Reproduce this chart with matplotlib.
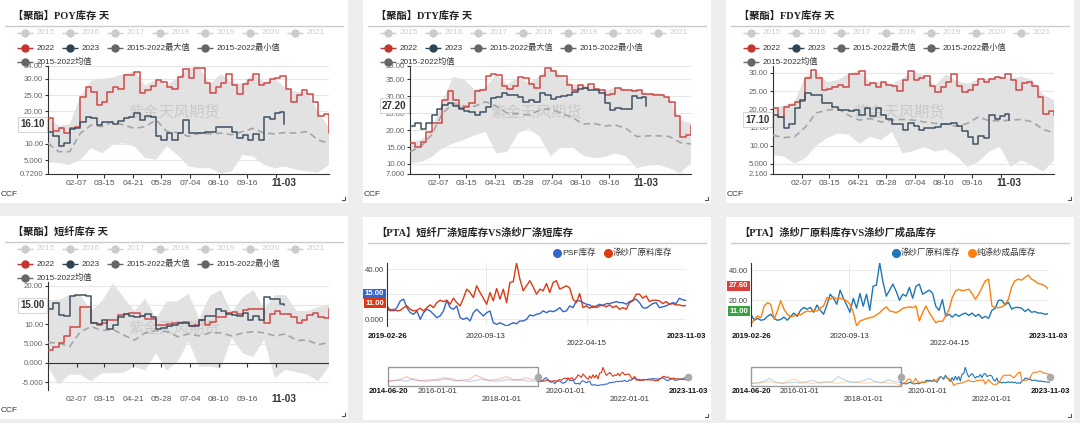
import numpy as np
import pandas as pd
import matplotlib
matplotlib.use('Agg')
import matplotlib.pyplot as plt
import matplotlib.dates as mdates
from matplotlib.patches import Rectangle

plt.rcParams['font.family'] = ['Liberation Sans', 'Noto Sans CJK SC']
TITLE_FONT = ['Liberation Serif', 'Noto Sans CJK SC']
W, H = 1080, 423

# ---------------- seasonal panels: weekly values, day-of-year axis ----------------
tick_labels = ['02-07', '03-15', '04-21', '05-28', '07-04', '08-10', '09-16', '10-23']
last_label = '11-03'
legend_years = ['2015', '2016', '2017', '2018', '2019', '2020', '2021']

poy_2022 = [17.9, 14.0, 15.0, 13.3, 15.0, 15.2, 24.6, 27.6, 25.9, 22.0, 23.0, 26.1, 27.6, 26.8,
            31.2, 31.2, 32.3, 25.8, 26.6, 27.8, 29.7, 29.2, 27.4, 26.8, 30.5, 33.1, 30.2, 33.4,
            33.4, 28.7, 25.6, 27.4, 28.9, 31.5, 28.2, 25.4, 28.5, 29.7, 31.5, 28.2, 28.7, 30.0,
            30.2, 31.0, 26.8, 23.0, 25.1, 26.6, 25.4, 23.0, 18.7, 19.1, 13.5]
poy_2023 = [13.6, 12.3, 9.2, 10.2, 14.5, 15.0, 16.6, 18.4, 17.9, 15.8, 16.6, 16.6, 16.2, 16.9,
            17.9, 18.4, 19.4, 17.4, 18.6, 18.2, 12.5, 11.2, 13.3, 11.2, 13.3, 17.4, 13.3, 13.3,
            13.5, 13.8, 13.8, 15.1, 15.3, 15.3, 13.8, 11.7, 12.8, 11.2, 13.1, 11.2, 18.2, 17.6,
            19.4, 19.7, 16.1]
poy_mean = [10.2, 7.6, 7.6, 13.3, 15.8, 15.3, 16.9, 15.8, 14.8, 15.3, 17.4, 13.8, 13.5, 12.3,
            13.3, 13.1, 13.3, 12.8, 13.8, 14.8, 13.3, 13.1, 13.5, 13.3, 13.8, 11.2, 10.2]
poy_max = [18.5, 15.5, 16.0, 24.6, 29.5, 30.0, 30.5, 31.5, 32.3, 28.0, 29.7, 28.0, 30.5, 33.4,
           33.4, 28.5, 31.5, 29.0, 28.5, 31.5, 29.0, 30.2, 27.0, 26.0, 26.0, 20.0, 15.0]
poy_min = [4.3, 4.1, 3.5, 5.1, 8.7, 7.1, 9.7, 10.2, 9.2, 5.6, 5.1, 9.2, 6.6, 3.0, 2.5, 2.5, 0.9,
           1.5, 6.6, 6.1, 3.5, 2.5, 3.0, 2.0, 1.5, 1.2, 3.5]
poy_yticks = [0.72, 5, 10, 15, 20, 25, 30, 34]
poy_ylabels = ['0.7200', '5.000', '10.00', '15.00', '20.00', '25.00', '30.00', '34.00']

dty_2022 = [16.3, 15.1, 16.6, 19.5, 22.0, 22.0, 28.9, 31.7, 28.9, 26.6, 26.9, 27.9, 31.7, 32.0,
            36.0, 36.6, 36.4, 33.0, 32.3, 33.0, 35.6, 35.3, 33.8, 32.6, 36.0, 38.5, 37.6, 36.0,
            36.0, 33.3, 32.0, 33.3, 32.6, 33.8, 32.3, 31.8, 30.4, 30.7, 32.6, 31.8, 32.0, 31.7,
            32.0, 30.7, 30.7, 30.4, 30.4, 29.9, 28.4, 24.2, 17.9, 18.6, 21.2]
dty_2023 = [21.2, 22.2, 20.2, 22.2, 24.5, 26.4, 27.4, 28.1, 27.1, 26.4, 25.7, 25.4, 24.5, 25.4,
            26.9, 29.4, 29.7, 30.9, 30.4, 30.4, 29.9, 28.4, 28.9, 28.4, 31.1, 30.4, 29.1, 29.7,
            30.1, 30.4, 31.4, 32.3, 32.6, 32.0, 31.8, 30.9, 27.9, 25.9, 26.7, 26.4, 26.4, 30.1,
            29.4, 29.7, 27.2]
dty_mean = [13.6, 15.1, 18.6, 25.0, 27.9, 27.1, 27.1, 28.4, 27.1, 25.0, 24.8, 24.5, 25.9, 26.4,
            25.0, 23.8, 21.8, 22.0, 21.2, 21.5, 20.5, 18.1, 18.3, 18.3, 18.1, 16.3, 15.9]
dty_max = [16.5, 17.0, 20.0, 28.5, 35.8, 35.0, 32.0, 32.5, 36.6, 33.5, 35.6, 34.0, 36.0, 38.5,
           36.0, 33.5, 33.5, 32.8, 31.5, 32.8, 32.2, 32.0, 31.0, 31.0, 29.5, 23.0, 22.0]
dty_min = [10.2, 10.5, 12.0, 14.6, 16.0, 17.1, 18.5, 19.5, 13.1, 13.6, 19.0, 20.5, 18.0, 12.2,
           15.0, 15.0, 12.5, 11.7, 12.0, 13.1, 12.2, 8.7, 9.5, 9.7, 8.7, 7.2, 10.2]
dty_yticks = [7, 10, 15, 20, 25, 30, 35, 39]
dty_ylabels = ['7.000', '10.00', '15.00', '20.00', '25.00', '30.00', '35.00', '39.00']

fdy_2022 = [20.2, 17.9, 20.6, 21.1, 22.0, 22.3, 28.7, 30.7, 28.7, 25.4, 25.7, 26.0, 26.6, 26.0,
            29.8, 29.8, 30.6, 26.6, 27.2, 26.0, 27.5, 26.6, 26.3, 25.0, 28.0, 30.6, 28.0, 28.7,
            29.1, 26.3, 24.8, 26.0, 27.5, 29.6, 26.3, 24.8, 25.2, 26.6, 28.2, 27.5, 28.3, 28.9,
            28.6, 29.6, 28.0, 25.2, 27.1, 27.5, 26.3, 23.4, 18.8, 19.5, 18.3]
fdy_2023 = [18.3, 17.9, 14.7, 15.9, 20.2, 22.5, 24.5, 24.0, 23.9, 21.6, 21.6, 20.5, 19.7, 19.8,
            19.5, 19.8, 18.3, 20.2, 18.1, 20.2, 18.3, 17.4, 15.9, 15.9, 14.4, 16.2, 15.3, 14.2,
            14.7, 14.7, 15.0, 15.9, 15.9, 16.2, 15.3, 14.0, 12.4, 10.4, 12.6, 12.2, 18.3, 17.4,
            18.0, 18.6, 17.1]
fdy_mean = [12.8, 12.2, 12.4, 15.1, 19.0, 19.7, 20.2, 18.3, 17.0, 17.4, 16.5, 17.0, 17.2, 17.0,
            16.5, 16.1, 15.9, 15.3, 16.1, 17.9, 16.8, 16.8, 17.0, 17.2, 16.5, 14.4, 13.5]
fdy_max = [20.5, 21.0, 22.0, 29.0, 30.5, 27.5, 28.0, 29.8, 30.6, 27.5, 27.5, 26.8, 28.5, 30.6,
           29.1, 26.5, 29.6, 27.8, 27.0, 28.2, 28.5, 29.0, 28.5, 29.0, 28.0, 24.0, 22.5]
fdy_min = [7.3, 7.0, 5.0, 6.5, 10.0, 12.0, 13.3, 13.0, 10.5, 12.4, 11.5, 13.8, 7.8, 8.5, 9.6,
           8.3, 9.0, 7.0, 4.1, 5.5, 8.3, 9.6, 4.1, 5.9, 4.5, 2.8, 5.9]
fdy_yticks = [2.16, 5, 10, 15, 20, 25, 30]
fdy_ylabels = ['2.160', '5.000', '10.00', '15.00', '20.00', '25.00', '30.00']

psf_2022 = [3.4, 4.1, 5.1, 7.0, 9.2, 9.2, 14.4, 14.4, 10.3, 9.8, 10.4, 11.1, 11.1, 12.4, 12.8,
            13.0, 13.0, 12.2, 11.3, 11.3, 9.8, 9.8, 10.1, 10.4, 10.4, 10.7, 9.6, 9.8, 11.1, 9.8,
            10.7, 11.8, 12.0, 13.0, 13.3, 12.7, 13.7, 13.9, 13.9, 13.9, 10.4, 12.7, 13.5, 12.8,
            12.8, 11.8, 10.3, 11.1, 12.4, 13.0, 12.0, 11.6, 13.9]
psf_2023 = [13.9, 15.6, 12.4, 12.2, 17.3, 17.6, 17.6, 17.4, 10.3, 10.0, 11.1, 8.7, 9.8, 12.0,
            12.7, 12.2, 11.8, 12.2, 12.8, 11.8, 8.7, 9.0, 9.6, 9.8, 10.3, 10.3, 9.6, 9.6, 11.1,
            12.2, 12.2, 13.9, 13.5, 12.7, 12.4, 12.2, 13.0, 11.1, 12.2, 11.1, 17.0, 16.5, 16.5,
            15.4, 15.0]
psf_mean = [5.3, 5.1, 4.2, 8.1, 9.4, 8.4, 8.7, 7.2, 5.9, 7.8, 8.4, 8.1, 6.8, 7.5, 7.0, 7.8, 7.8,
            7.0, 7.7, 8.1, 7.8, 7.0, 7.5, 5.8, 5.9, 4.7, 5.3]
psf_max = [16.3, 16.3, 17.6, 17.6, 13.5, 16.0, 20.6, 17.0, 13.5, 16.7, 11.5, 15.9, 16.0, 18.0,
           11.5, 17.5, 18.9, 13.0, 17.0, 18.9, 14.0, 17.6, 17.6, 13.5, 13.5, 14.5, 15.0]
psf_min = [-1.0, -5.7, -3.1, -3.1, -4.8, -2.7, -2.7, -2.5, -1.0, -2.0, 2.5, -2.0, 0.3, 5.5, -1.0,
           -1.0, -1.5, 6.4, 2.5, 1.5, 6.0, -4.0, -1.8, -2.5, -3.0, -4.8, -1.0]
psf_yticks = [-5, 0, 5, 10, 15, 20]
psf_ylabels = ['-5.000', '0.000', '5.000', '10.00', '15.00', '20.00']

# ---------------- PTA panels ----------------
main_dates = pd.date_range('2019-02-26', '2023-11-03', periods=91)
early_dates = pd.date_range('2014-06-20', '2019-02-26', periods=25)
main_ticks = ['2020-09-13', '2022-04-15']
ov_ticks = ['2016-01-01', '2018-01-01', '2020-01-01', '2022-01-01']

yarn_raw = [10.7, 6.7, 8.0, 6.7, 7.2, 9.3, 10.7, 8.0, 6.7, 7.2, 8.8, 6.7, 9.3, 11.5, 9.3, 13.3,
            15.2, 14.1, 15.2, 12.0, 16.8, 13.3, 10.7, 16.8, 24.0, 21.3, 17.3, 26.7, 21.3, 16.8,
            12.0, 21.3, 14.7, 24.5, 16.0, 24.0, 13.3, 29.3, 30.0, 44.8, 32.0, 22.7, 26.7, 30.7,
            25.9, 20.0, 24.0, 22.7, 28.5, 21.3, 29.3, 30.7, 24.0, 25.3, 26.7, 24.8, 16.0, 13.3,
            20.5, 9.3, 10.7, 8.8, 10.7, 9.3, 10.7, 11.5, 9.9, 11.5, 9.3, 10.7, 8.0, 9.3, 8.0,
            13.3, 14.7, 20.0, 20.0, 16.8, 18.7, 14.1, 15.2, 15.2, 14.7, 12.5, 14.1, 12.0, 12.5,
            11.5, 11.5, 10.7, 11.0]
psf_stock = [6.7, 8.0, 6.7, 9.3, 14.7, 16.0, 9.3, 5.3, 4.0, 6.7, 0.0, 5.3, 8.0, 6.7, 4.0, 1.3,
             2.7, 6.7, 15.0, 9.3, 8.0, 10.7, 1.3, 0.0, 1.3, -1.3, 5.3, 8.0, 5.3, 2.7, 5.3, 6.7,
             -2.7, -4.0, -2.7, -4.0, -5.3, -4.0, -2.7, -3.5, -1.3, -1.3, 0.0, 3.5, 2.7, 4.0, 4.5,
             6.7, 5.3, 6.7, 6.1, 7.2, 9.3, 6.1, 6.7, 10.7, 9.3, 14.7, 14.7, 13.3, 12.0, 11.5, 9.3,
             10.7, 12.0, 10.7, 12.5, 12.5, 13.3, 14.1, 13.3, 13.3, 12.0, 14.1, 15.2, 16.0, 13.3,
             9.3, 8.8, 10.7, 12.5, 13.3, 9.3, 9.9, 10.7, 12.0, 13.3, 12.5, 16.8, 15.5, 15.0]
yarn_goods = [4.0, 7.3, 9.6, 8.4, 16.2, 18.4, 17.3, 7.3, 12.9, 19.6, 14.0, 10.7, 8.9, 9.6, 10.7,
              10.2, 11.8, 12.9, 12.4, 13.3, 12.9, 14.7, 16.2, 21.8, 20.7, 22.2, 20.7, 21.3, 20.7,
              19.6, 17.3, 12.0, 2.9, 6.2, 7.0, 7.8, 8.4, 8.9, 10.2, 11.8, 14.0, 15.6, 12.9, 12.4,
              11.8, 12.9, 14.7, 15.1, 15.6, 15.1, 16.2, 6.2, 11.8, 16.2, 11.8, 8.4, 5.1, 6.2, 5.8,
              9.6, 14.0, 21.8, 26.2, 27.3, 26.2, 26.7, 27.3, 24.4, 20.7, 24.0, 28.4, 32.9, 34.0,
              16.2, 15.1, 15.1, 15.6, 17.3, 20.7, 28.9, 32.9, 34.0, 33.3, 35.1, 36.7, 34.0, 32.9,
              31.1, 30.7, 29.6, 27.6]
early_yarn_raw = [7.9, 9.0, 12.0, 19.3, 10.5, 8.0, 9.5, 11.0, 8.5, 12.0, 14.5, 9.0, 10.0, 11.5,
                  23.7, 16.0, 9.5, 10.5, 14.0, 19.3, 11.0, 9.0, 16.7, 12.0, 10.7]
early_psf = [6.1, 8.0, 9.5, 7.0, 14.0, 9.0, 6.5, 8.0, 12.5, 16.7, 10.0, 7.5, 8.5, 6.0, 9.0, 12.3,
             9.0, 7.0, 8.0, 11.0, 9.5, 12.3, 8.0, 7.0, 6.7]
early_yarn_goods = [9.0, 8.0, 10.5, 12.0, 9.5, 8.5, 14.0, 18.0, 11.0, 9.0, 8.0, 10.0, 12.5, 9.5,
                    8.0, 11.0, 13.0, 10.0, 8.5, 9.0, 12.0, 10.5, 9.0, 8.0, 4.0]

C22, C23, CREF = '#c23531', '#2f4554', '#666666'


def day_of(md):
    return pd.Timestamp('2023-' + md).dayofyear - 1


fig = plt.figure(figsize=(W / 100, H / 100), dpi=100, facecolor='#eeeeee')
bg = fig.add_axes([0, 0, 1, 1], zorder=0)
bg.set_xlim(0, W)
bg.set_ylim(H, 0)
bg.axis('off')


def px_axes(x0, y0, x1, y1):
    ax = fig.add_axes([x0 / W, 1 - y1 / H, (x1 - x0) / W, (y1 - y0) / H], zorder=1)
    ax.set_facecolor('none')
    return ax


def card(x0, y0, x1, y1, title, ccf=True):
    bg.add_patch(Rectangle((x0, y0), x1 - x0, y1 - y0, fc='white', ec='none'))
    bg.text(x0 + 13, y0 + 16, title, family=TITLE_FONT, fontweight='bold', fontsize=7.4,
            color='#222', va='center', ha='left')
    bg.plot([x0 + 5, x1 - 5], [y0 + 26.5, y0 + 26.5], color='#cccccc', lw=1)
    bg.plot([x1 - 6, x1 - 3, x1 - 3], [y1 - 3, y1 - 3, y1 - 6], color='#555', lw=0.8)
    if ccf:
        bg.text(x0 + 1, y1 - 9, 'CCF', fontsize=6, color='#333', va='center', ha='left')


def legend_item(xt, y, label, color, tcolor):
    bg.plot([xt - 20, xt - 4], [y, y], color=color, lw=1, solid_capstyle='butt')
    bg.plot(xt - 12, y, 'o', ms=5, color=color)
    bg.text(xt, y, label, fontsize=5.9, color=tcolor, va='center', ha='left')


def seasonal(cx, cy, plot_box, title, v22, v23, vmean, vmax, vmin, yticks, ylabels,
             zero_axis=False):
    card(cx, cy, cx + 348, cy + 203, title)
    for i, yr in enumerate(legend_years):
        legend_item(cx + 37 + 45 * i, cy + 33, yr, '#cccccc', '#cccccc')
    legend_item(cx + 37, cy + 48, '2022', C22, '#333')
    legend_item(cx + 82, cy + 48, '2023', C23, '#333')
    legend_item(cx + 127, cy + 48, '2015-2022最大值', CREF, '#333')
    legend_item(cx + 217, cy + 48, '2015-2022最小值', CREF, '#333')
    legend_item(cx + 37, cy + 62, '2015-2022均值', CREF, '#333')

    ax = px_axes(*plot_box)
    d22 = np.arange(len(v22)) * 7
    d23 = np.append(np.arange(len(v23) - 1) * 7, day_of(last_label))
    dref = np.arange(len(vmean)) * 14
    ax.fill_between(dref, vmin, vmax, color='#e2e2e2', ec='none', zorder=1)
    ax.text(0.45, 0.57, '紫金天风期货', transform=ax.transAxes, fontsize=11, color='#b5b5b5',
            alpha=0.55, ha='center', va='center', zorder=2)
    ax.plot(dref, vmean, color='#a5a5a5', lw=1.2, ls=(0, (4, 2.5)), zorder=3)
    ax.step(d22, v22, where='post', color='#d04848', lw=1.1, zorder=4)
    ax.step(d23, v23, where='post', color='#3f5263', lw=1.1, zorder=5)

    ax.set_xlim(0, 364)
    lo, hi = yticks[0], yticks[-1]
    if zero_axis:
        lo, hi = -7.07, 21.0
    if yticks is fdy_yticks:
        hi = 31.9
    ax.set_ylim(lo, hi)
    ax.set_yticks(yticks, ylabels)
    ax.yaxis.grid(True, color='#e6e6e6', lw=0.8)
    ax.set_axisbelow(True)
    tdays = [day_of(t) for t in tick_labels]
    ax.set_xticks(tdays, tick_labels[:-1] + [''])
    ax.tick_params(axis='y', length=2.5, width=0.8, color='#333', labelsize=5.6,
                   labelcolor='#666', pad=1)
    ax.tick_params(axis='x', length=3, width=0.8, color='#333', labelsize=6,
                   labelcolor='#555', pad=1.5)
    for s in ['top', 'right']:
        ax.spines[s].set_visible(False)
    ax.spines['left'].set_color('#333')
    ax.spines['left'].set_linewidth(0.8)
    ax.spines['bottom'].set_color('#333')
    ax.spines['bottom'].set_linewidth(0.8)
    if zero_axis:
        ax.spines['bottom'].set_visible(False)
        ax.tick_params(axis='x', length=0, pad=4.5)
        ax.axhline(0, color='#333', lw=0.8, zorder=6)
        ax.axhline(lo, color='#e6e6e6', lw=0.8)
        ax.plot(tdays, [0] * len(tdays), ls='none', marker=3, ms=3, mew=0.8, color='#333',
                zorder=6)
    ax.annotate(last_label, xy=(day_of(last_label), 0), xycoords=('data', 'axes fraction'),
                xytext=(0, -3), textcoords='offset points', ha='center', va='top',
                fontsize=7.2, fontweight='bold', color='#333', annotation_clip=False)
    ax.annotate(f'{v23[-1]:.2f}', xy=(0, v23[-1]), xycoords=('axes fraction', 'data'),
                xytext=(-2.5, 0), textcoords='offset points', ha='right', va='center',
                fontsize=7, fontweight='bold', color='#333', zorder=10, annotation_clip=False,
                bbox=dict(boxstyle='square,pad=0.25', fc='white', ec='#cccccc', lw=0.6))


def pta(cx, cy, title, main_box, ov_box, series, early, colors, names, legend_x,
        ylim, yticks, ylabels, boxes):
    card(cx, cy, cx + 348, cy + 203, title, ccf=False)
    for xm, nm, col in zip(legend_x, names, colors):
        bg.plot(xm, cy + 36, 'o', ms=5.5, color=col)
        bg.text(xm + 5, cy + 36, nm, fontsize=6.1, color='#333', va='center', ha='left')
    bg.text((main_box[0] + main_box[2]) / 2 + 3, main_box[3] + 2, '紫金天风期货', fontsize=11,
            color='#c8c8c8', ha='center', va='center', zorder=0.5)

    ax = px_axes(*main_box)
    for s, col in zip(series, colors):
        ax.plot(main_dates, s, color=col, lw=1.0)
    ax.set_xlim(main_dates[0], main_dates[-1])
    ax.set_ylim(*ylim)
    ax.set_yticks(yticks, ylabels)
    ax.set_xticks([mdates.date2num(pd.Timestamp(t)) for t in main_ticks])
    ax.tick_params(axis='x', length=0, labelbottom=False)
    ax.tick_params(axis='y', length=0, labelsize=5.6, labelcolor='#444', pad=2)
    ax.grid(True, color='#ebebeb', lw=0.7)
    ax.set_axisbelow(True)
    for s in ['top', 'right', 'bottom']:
        ax.spines[s].set_visible(False)
    ax.spines['left'].set_color('#333')
    ax.spines['left'].set_linewidth(0.8)
    labels = [(main_dates[0].strftime('%Y-%m-%d'), -7.2, True),
              (main_ticks[0], -7.2, False), (main_ticks[1], -12.3, False),
              (main_dates[-1].strftime('%Y-%m-%d'), -7.2, True)]
    for lbl, off, bold in labels:
        ax.annotate(lbl, xy=(mdates.date2num(pd.Timestamp(lbl)), 0),
                    xycoords=('data', 'axes fraction'), xytext=(0, off),
                    textcoords='offset points', ha='center', va='center', fontsize=5.6,
                    fontweight='bold' if bold else 'normal',
                    color='#111' if bold else '#333', annotation_clip=False)
    for frac, txt, col in boxes:
        ax.annotate(txt, xy=(0, frac), xycoords='axes fraction', xytext=(-2, 0),
                    textcoords='offset points', ha='right', va='center', fontsize=5.6,
                    fontweight='bold', color='white', zorder=10, annotation_clip=False,
                    bbox=dict(boxstyle='square,pad=0.2', fc=col, ec='none'))

    ov = px_axes(*ov_box)
    ov.axis('off')
    for s, e, col in zip(series, early, colors):
        ov.plot(early_dates, e, color=col, lw=0.8, alpha=0.3)
        ov.plot(main_dates, s, color=col, lw=0.8)
    allv = np.concatenate([np.r_[s, e] for s, e in zip(series, early)])
    ov.set_ylim(allv.min() - 1, allv.max() + 1)
    x_a, x_b = mdates.date2num(early_dates[0]), mdates.date2num(main_dates[0])
    ov.set_xlim(x_a, mdates.date2num(main_dates[-1]))
    ov.add_patch(Rectangle((x_a, 0), x_b - x_a, 1, transform=ov.get_xaxis_transform(),
                           fill=False, ec='#999999', lw=1, clip_on=False))
    ov.plot([x_b, mdates.date2num(main_dates[-1])], [0.5, 0.5], 'o', ms=4.5, color='#aaaaaa',
            transform=ov.get_xaxis_transform(), clip_on=False)
    ov_labels = [(early_dates[0].strftime('%Y-%m-%d'), -4.3, True),
                 (ov_ticks[0], -4.3, False), (ov_ticks[1], -10, False),
                 (ov_ticks[2], -4.3, False), (ov_ticks[3], -10, False),
                 (main_dates[-1].strftime('%Y-%m-%d'), -4.3, True)]
    for lbl, off, bold in ov_labels:
        ov.annotate(lbl, xy=(mdates.date2num(pd.Timestamp(lbl)), 0),
                    xycoords=('data', 'axes fraction'), xytext=(0, off),
                    textcoords='offset points', ha='center', va='center', fontsize=5.6,
                    fontweight='bold' if bold else 'normal',
                    color='#111' if bold else '#333', annotation_clip=False)


seasonal(0, 0, (48, 66, 329, 174), '【聚酯】POY库存 天', poy_2022, poy_2023, poy_mean,
         poy_max, poy_min, poy_yticks, poy_ylabels)
seasonal(363, 0, (410, 66, 691, 174), '【聚酯】DTY库存 天', dty_2022, dty_2023, dty_mean,
         dty_max, dty_min, dty_yticks, dty_ylabels)
seasonal(726, 0, (773, 66, 1054, 174), '【聚酯】FDY库存 天', fdy_2022, fdy_2023, fdy_mean,
         fdy_max, fdy_min, fdy_yticks, fdy_ylabels)
seasonal(0, 216, (48, 282, 329, 390), '【聚酯】短纤库存 天', psf_2022, psf_2023, psf_mean,
         psf_max, psf_min, psf_yticks, psf_ylabels, zero_axis=True)

pta(363, 217, '【PTA】短纤厂涤短库存VS涤纱厂涤短库存', (387, 263, 686, 326),
    (388, 367, 688, 386), [psf_stock, yarn_raw], [early_psf, early_yarn_raw],
    ['#3366cc', '#dc3912'], ['PSF库存', '涤纱厂原料库存'], [557, 608],
    (-5.3, 44.8), [0, 20, 40], ['0.000', '20.00', '40.00'],
    [(0.508, '15.00', '#3366cc'), (0.365, '11.00', '#dc3912')])
pta(726, 217, '【PTA】涤纱厂原料库存VS涤纱厂成品库存', (751, 263, 1048, 326),
    (751, 367, 1050, 386), [yarn_raw, yarn_goods], [early_yarn_raw, early_yarn_goods],
    ['#1f77b4', '#ff7f0e'], ['涤纱厂原料库存', '纯涤纱成品库存'], [896, 972],
    (2.9, 44.7), [20, 40], ['20.00', '40.00'],
    [(0.635, '27.60', '#d9403a'), (0.238, '11.00', '#3aa142')])

fig.savefig('out.png', dpi=100)
